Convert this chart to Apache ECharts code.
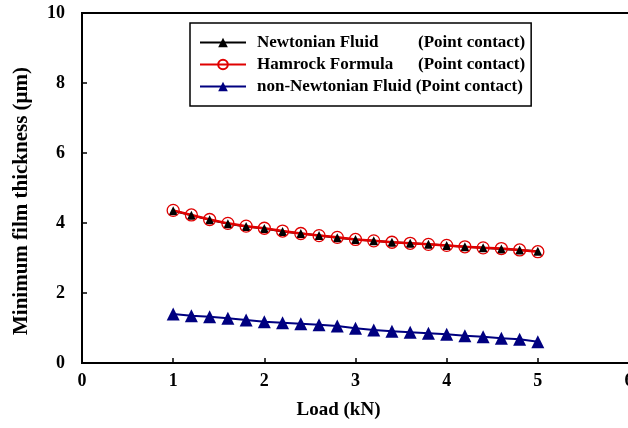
<!DOCTYPE html>
<html>
<head>
<meta charset="utf-8">
<script src="https://cdn.jsdelivr.net/npm/echarts@6/dist/echarts.min.js"></script>
<style>
  html, body {margin: 0; padding: 0; background: #fff;}
  #chart {width: 628px; height: 428px;}
</style>
</head>
<body>
<div id="chart"></div>
<script>
// load values (kN)
const loads = [1.0, 1.2, 1.4, 1.6, 1.8, 2.0, 2.2, 2.4, 2.6, 2.8, 3.0, 3.2, 3.4, 3.6, 3.8, 4.0, 4.2, 4.4, 4.6, 4.8, 5.0];
// minimum film thickness (um)
const newtonian = [4.35, 4.22, 4.09, 3.98, 3.90, 3.84, 3.76, 3.70, 3.64, 3.58, 3.53, 3.49, 3.45, 3.42, 3.39, 3.36, 3.32, 3.29, 3.26, 3.23, 3.19];
const hamrock   = [4.36, 4.23, 4.10, 3.99, 3.91, 3.85, 3.77, 3.70, 3.64, 3.59, 3.53, 3.49, 3.45, 3.42, 3.39, 3.36, 3.32, 3.29, 3.27, 3.23, 3.18];
const nonNewtonian = [1.40, 1.35, 1.32, 1.28, 1.23, 1.18, 1.15, 1.12, 1.09, 1.06, 0.99, 0.94, 0.91, 0.88, 0.85, 0.82, 0.78, 0.75, 0.71, 0.68, 0.61];
const seriesNames = ['Newtonian Fluid', 'Hamrock Formula', 'non-Newtonian Fluid'];

const pair = (arr) => loads.map((x, i) => [x, arr[i]]);
const serif = 'Liberation Serif';

const option = {
    animation: false,
    grid: {left: 82, right: -1, top: 13, bottom: 65, outerBoundsMode: 'none',
        show: true, borderColor: '#000', borderWidth: 2},
    legend: {
        orient: 'vertical',
        left: 190, top: 23,
        padding: [11, 6, 11, 9],
        itemWidth: 46, itemHeight: 12, itemGap: 5,
        borderColor: '#000', borderWidth: 1.5,
        data: seriesNames,
        formatter: (n) => n === seriesNames[2]
            ? '{c|' + n + ' }{b|(Point contact)}'
            : '{a|' + n + '}{b|(Point contact)}',
        textStyle: {
            fontFamily: serif, fontWeight: 'bold', fontSize: 17, color: '#000', padding: [0, 0, 0, 6],
            rich: {
                a: {fontFamily: serif, fontWeight: 'bold', fontSize: 17, width: 161, height: 18},
                c: {fontFamily: serif, fontWeight: 'bold', fontSize: 17, height: 18},
                b: {fontFamily: serif, fontWeight: 'bold', fontSize: 17, height: 18}
            }
        }
    },
    xAxis: {
        type: 'value', min: 0, max: 6, interval: 1,
        name: 'Load (kN)', nameLocation: 'middle', nameGap: 38,
        nameTextStyle: {fontFamily: serif, fontWeight: 'bold', fontSize: 19, color: '#000', padding: [0, 34, 0, 0]},
        axisLine: {lineStyle: {color: '#000', width: 2}},
        axisTick: {inside: true, length: 5, lineStyle: {color: '#000', width: 1.5}},
        axisLabel: {margin: 9, fontFamily: serif, fontWeight: 'bold', fontSize: 18, color: '#000'},
        splitLine: {show: false}
    },
    yAxis: {
        type: 'value', min: 0, max: 10, interval: 2,
        name: 'Minimum film thickness (\u03bcm)', nameLocation: 'middle', nameGap: 50,
        nameTextStyle: {fontFamily: serif, fontWeight: 'bold', fontSize: 21, color: '#000', padding: [0, 26, 0, 0]},
        axisLine: {lineStyle: {color: '#000', width: 2}},
        axisTick: {inside: true, length: 5, lineStyle: {color: '#000', width: 1.5}},
        axisLabel: {margin: 17, fontFamily: serif, fontWeight: 'bold', fontSize: 18, color: '#000'},
        splitLine: {show: false}
    },
    series: [
        {
            name: seriesNames[0], type: 'line', data: pair(newtonian),
            symbol: 'triangle', symbolSize: 9,
            lineStyle: {color: '#000', width: 2},
            itemStyle: {color: '#000'}
        },
        {
            name: seriesNames[1], type: 'line', data: pair(hamrock),
            symbol: 'circle', symbolSize: 12,
            lineStyle: {color: '#e00000', width: 2.5},
            itemStyle: {color: 'rgba(0,0,0,0)', borderColor: '#e00000', borderWidth: 1.3}
        },
        {
            name: seriesNames[2], type: 'line', data: pair(nonNewtonian),
            symbol: 'triangle', symbolSize: 13,
            lineStyle: {color: '#000080', width: 2},
            itemStyle: {color: '#000080'}
        }
    ]
};

const myChart = echarts.init(document.getElementById('chart'));
myChart.setOption(option);
</script>
</body>
</html>
